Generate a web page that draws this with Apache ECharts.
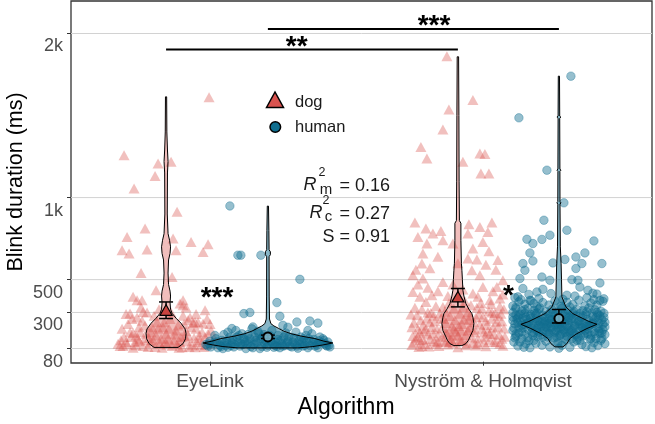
<!DOCTYPE html>
<html><head><meta charset="utf-8">
<script src="https://cdn.jsdelivr.net/npm/echarts@6/dist/echarts.min.js"></script>
<style>html,body{margin:0;padding:0;background:#fff}#c{width:655px;height:424px}</style>
</head><body><div id="c"></div>
<script>
// ---------------- data ----------------
const CATEGORIES = ['EyeLink', 'Nyström & Holmqvist'];
const Y_TICKS = [80, 300, 500, 1000, 2000];
const Y_TICK_LABELS = ['80', '300', '500', '1k', '2k'];
const GRID_LINES = [80, 300, 500, 1000, 2000];
const GROUPS = ['dog', 'human', 'dog', 'human'];          // EyeLink dog, EyeLink human, N&H dog, N&H human
const GROUP_X = [0.839, 1.212, 1.908, 2.278];              // dodged positions on the category scale
const JIT = 1 / 273;                                        // jitter unit (fraction of category spacing)

// points: [jitter, blink duration ms]
const DOG_EL = [[-42,1258],[-8,1208],[5,1218],[-11,1132],[-32,1055],[43,1612],[11,913],[-21,811],[-39,760],[7,750],[25,730],[42,716],[-44,679],[-37,659],[-19,683],[10,679],[37,669],[-25,541],[6,516],[-10,435],[-29,374],[14,354],[39,313],[-33,395],[-24,374],[17,374],[17,344],[-36,293],[-23,303],[22,252],[29,242],[37,232],
[-46,95],[-40,120],[-35,150],[-30,100],[-26,180],[-22,130],[-18,90],[-14,210],[-10,160],[-6,110],[-2,240],[2,140],[6,95],[10,190],[14,120],[18,230],[22,160],[26,100],[30,200],[34,130],[38,90],[42,170],[46,110],[-44,200],[-38,230],[-33,85],[-28,140],[-24,250],[-20,170],[-16,115],[-12,280],[-8,200],[-4,85],[0,170],[4,260],[8,130],[12,220],[16,88],[20,185],[24,270],[28,145],[32,240],[36,180],[40,105],[44,230],[-42,150],[-36,180],[-31,120],[-27,210],[-23,95],[-19,300],[-15,180],[-11,90],[-7,320],[-3,210],[1,105],[5,300],[9,165],[13,85],[17,280],[21,125],[25,210],[29,88],[33,160],[-48,110],[48,140],[-34,260],[-25,330],[20,330],[-40,290],[30,290],[-5,140],[15,150],[-30,160],[35,100],
[-45,130],[-39,105],[-33,175],[-27,125],[-21,220],[-17,145],[-9,240],[-1,120],[3,200],[11,105],[19,155],[27,235],[31,120],[39,150],[45,190],[-29,270],[-13,130],[23,90],[41,260],[-43,95]];
const HUM_EL = [[-38,949],[-30,649],[-27,649],[-7,649],[32,502],[9,360],[12,277],[-24,293],[-18,300],[42,248],[29,242],[15,222],[-36,202],[-15,212],[50,235],
[-60,95],[-55,110],[-50,85],[-46,130],[-42,100],[-38,150],[-34,90],[-30,120],[-26,170],[-22,80],[-18,140],[-14,105],[-10,185],[-6,92],[-2,125],[2,160],[6,88],[10,135],[14,110],[18,175],[22,95],[26,145],[30,82],[34,120],[38,160],[42,98],[46,135],[50,85],[54,115],[58,100],[62,90],[-58,125],[-52,140],[-48,100],[-44,165],[-40,88],[-36,115],[-32,190],[-28,95],[-24,140],[-20,110],[-16,200],[-12,130],[-8,80],[-4,165],[0,100],[4,190],[8,118],[12,85],[16,150],[20,125],[24,90],[28,180],[32,105],[36,140],[40,85],[44,170],[48,110],[52,150],[56,130],[-62,105],[-45,80],[-35,135],[-25,105],[-15,85],[-5,150],[5,110],[15,95],[25,120],[35,95],[45,120],[55,140],[-20,165],[20,210],[-40,180],[40,190],[60,120],[-53,160],[0,140],[10,160],
[-57,90],[-51,120],[-47,92],[-41,125],[-37,98],[-31,150],[-27,110],[-21,128],[-17,92],[-11,115],[-7,138],[-1,88],[3,125],[7,100],[13,130],[17,98],[21,150],[27,108],[31,128],[37,100],[41,140],[47,95],[51,128],[57,110],[61,100],[-59,110],[-43,115],[-33,105],[-23,118],[-13,150],[-3,110],[9,92],[19,115],[29,95],[39,120],[49,100],[59,95],[-29,160],[33,150],[-9,170]];
const DOG_NH = [[-11,1862],[15,1594],[-9,1537],[-15,1415],[-37,1309],[-31,1238],[5,1218],[22,1269],[27,1265],[23,1147],[31,1147],
[-43,848],[-32,812],[-40,760],[-25,781],[-17,797],[-15,740],[-31,720],[11,838],[22,821],[34,848],[10,781],[30,791],[25,730],[31,673],[-36,598],[10,629],[19,623],[14,557],[22,527],[-45,527],[-35,507],[-15,486],[45,496],[39,455],[25,455],[-45,425],[-26,405],[15,415],[32,374],[42,385],
[-40,470],[-30,450],[-20,430],[-5,470],[5,440],[35,430],[-38,395],[-10,400],[20,395],[45,410],[-42,560],[-28,570],[0,600],[28,590],[38,560],[-20,640],[40,620],[-35,660],[15,690],[-5,720],
[-46,102],[-42,143],[-38,176],[-35,221],[-31,263],[-27,297],[-22,338],[-19,96],[-14,128],[-11,171],[-6,214],[-3,253],[2,292],[5,331],[9,113],[14,148],[17,194],[22,226],[25,272],[31,308],[33,352],[38,118],[41,163],[46,203],[-44,238],[-41,283],[-36,318],[-32,364],[-29,92],[-24,124],[-20,158],[-16,205],[-12,236],[-8,278],[-4,323],[0,88],[4,127],[8,162],[12,208],[16,241],[21,288],[24,322],[28,94],[32,133],[36,168],[40,213],[44,247],[-47,287],[-43,328],[-39,89],[-35,134],[-30,166],[-26,212],[-23,246],[-18,293],[-15,334],[-10,104],[-7,137],[-2,183],[1,218],[6,258],[10,302],[13,344],[18,98],[20,141],[26,178],[29,224],[34,262],[37,297],[42,337],[45,97],[-45,157],[-37,252],[-28,138],[-21,197],[-13,304],[-5,112],[3,188],[11,254],[19,328],[27,152],[35,207],[43,292],[-40,198],[-33,108],[-25,173],[-17,264],[-9,356],[7,368],[23,358],[39,243],[47,152],[-12,120],[15,115],[-34,185],[30,185],
[-44,115],[-40,150],[-36,95],[-32,200],[-28,240],[-24,280],[-20,120],[-16,150],[-12,180],[-8,120],[-4,200],[0,160],[4,230],[8,100],[12,280],[16,180],[20,110],[24,200],[28,250],[32,170],[36,120],[40,280],[44,140],[46,320],[-46,210],[-38,130],[-30,300],[-22,110],[-14,260],[-6,160],[2,130],[10,190],[18,270],[26,120],[34,300],[42,110]];
const HUM_NH = [[12,1740],[-40,1486],[-12,1167],[5,968],[-15,862],[8,801],[-9,771],[-32,746],[-26,720],[-17,745],[35,736],[-29,663],[-26,614],[-36,598],[26,663],[17,638],[23,598],[-6,602],[6,623],[43,598],[17,568],[-34,557],[-39,507],[-17,516],[-9,496],[13,500],[19,496],[41,480],[-36,446],[29,435],[-22,425],[-16,441],[-41,395],[8,405],[21,455],[34,417],[41,374],[-29,374],
[-44,390],[-30,410],[-20,385],[-8,415],[4,380],[16,400],[28,390],[38,412],[45,383],[-38,378],
[-46,340],[-40,365],[-34,350],[-28,372],[-22,335],[-16,360],[-10,345],[-4,370],[2,338],[8,362],[14,348],[20,375],[26,340],[32,358],[38,345],[44,368],[-43,332],[-25,355],[11,333],[35,378],
[-46,300],[-43,322],[-40,285],[-37,310],[-34,295],[-31,325],[-28,288],[-25,312],[-22,298],[-19,328],[-16,283],[-13,306],[-10,292],[-7,318],[-4,286],[-1,302],[3,325],[6,290],[9,314],[12,282],[15,305],[18,320],[21,293],[24,310],[27,286],[30,327],[33,298],[36,316],[39,288],[42,308],[45,295],
[-46,250],[-44,230],[-41,268],[-38,242],[-35,226],[-32,258],[-29,275],[-26,236],[-23,262],[-20,224],[-17,248],[-14,272],[-11,232],[-8,256],[-5,240],[-2,266],[1,228],[4,252],[7,274],[10,238],[13,262],[16,226],[19,246],[22,270],[25,234],[28,258],[31,222],[34,244],[37,268],[40,232],[43,256],[46,240],[-30,240],[0,245],[30,250],
[-46,190],[-43,170],[-40,208],[-37,182],[-34,165],[-31,198],[-28,215],[-25,176],[-22,202],[-19,162],[-16,188],[-13,212],[-10,172],[-7,196],[-4,180],[-1,206],[2,168],[5,192],[8,214],[11,178],[14,200],[17,164],[20,186],[23,210],[26,174],[29,198],[32,162],[35,184],[38,208],[41,172],[44,196],[46,165],[-20,180],[10,185],[40,185],
[-45,120],[-41,95],[-37,140],[-33,110],[-29,85],[-25,130],[-21,150],[-17,100],[-13,125],[-9,90],[-5,145],[-1,115],[3,100],[7,135],[11,88],[15,120],[19,150],[23,105],[27,92],[31,138],[35,115],[39,98],[43,142],[46,110],[-43,155],[-35,88],[-23,112],[0,82],[21,130],[33,85],
[-44,145],[-40,175],[-36,205],[-32,235],[-28,265],[-24,295],[-20,320],[-16,150],[-12,180],[-8,210],[-4,225],[0,270],[4,300],[8,155],[12,190],[16,218],[20,248],[24,280],[28,305],[32,140],[36,172],[40,202],[44,228],[-42,260],[-38,290],[-34,318],[-30,128],[-26,160],[-22,190],[-18,215],[-14,245],[-10,262],[-6,296],[-2,150],[2,200],[6,232],[10,268],[14,295],[18,130],[22,158],[26,192],[30,220],[34,276],[38,300],[42,130],[46,212],[-45,205],[-41,236],[-37,222],[-33,272],[-27,205],[-21,248],[-15,230],[-9,235],[-3,190],[3,215],[9,250],[15,170],[21,230],[27,215],[33,230],[39,255],[45,270],[-43,285],[-39,120],[-31,145],[-23,285],[-11,150],[-7,258],[1,160],[13,140],[25,160],[37,140],[43,175],[-36,265],[-19,242],[-1,230],[17,280],[29,170],[41,280],[-46,272],[-12,205],[6,178],[24,205],[-27,180],[35,235]];

// violin outlines: [blink duration ms, half width in jitter units]
const VIOLIN_DOG_EL = [[87,12],[110,17],[140,19.5],[173,20],[200,19],[234,15],[265,10],[295,6],[320,4.5],[360,4],[400,4.5],[430,4],[470,2.5],[540,2],[620,2.5],[660,4],[700,4.5],[740,3.5],[780,2],[900,1.2],[1150,1.4],[1220,2],[1290,1.4],[1400,0.8],[1614,0.6]];
const VIOLIN_HUM_EL = [[84,30],[92,45],[102,55],[114,65],[125,56],[141,47],[155,34],[171,23],[186,16],[202,11],[218,6],[232,3],[260,1.6],[400,1.3],[640,1.2],[652,2.5],[670,2.5],[682,1.2],[800,1],[948,0.6]];
const VIOLIN_DOG_NH = [[98,4],[110,8],[130,10.5],[151,12],[190,15],[232,16],[270,15],[293,14],[320,11],[354,8],[400,6],[435,5],[500,4.5],[557,4],[600,3.5],[740,3],[844,3],[860,1.5],[1100,1.2],[1500,1],[1858,0.7]];
const VIOLIN_HUM_NH = [[90,4],[110,8],[141,11],[171,18],[202,28],[228,38],[245,30],[263,24],[293,14],[334,7],[395,3],[500,2.6],[600,2.2],[700,1.4],[960,1.1],[968,2],[976,1.1],[1160,1],[1167,2],[1174,1],[1483,0.8],[1490,2],[1497,0.8],[1740,0.6]];
const VIOLINS = [VIOLIN_DOG_EL, VIOLIN_HUM_EL, VIOLIN_DOG_NH, VIOLIN_HUM_NH];

const MEANS = [313, 151, 395, 263];
const CI_LO = [263, 141, 334, 236];
const CI_HI = [364, 162, 446, 318];

// significance brackets between algorithms
const SIG_TEXT = ['**', '***'];
const SIG_FROM = [0, 1];
const SIG_TO = [2, 3];
const SIG_LEVEL = [1903, 2027];
const SIG_TEXT_X = [1.3176, 1.8205];
const SIG_TEXT_Y = [1954, 2082];
// significance within algorithm (dog vs human)
const WITHIN_TEXT = ['***', '*'];
const WITHIN_Y = [423, 435];

const R2_M = '0.16', R2_C = '0.27', S_VAL = '0.91';

// ---------------- chart ----------------
const X_MIN = 0.4908, X_MAX = 2.619, Y_MIN = -8, Y_MAX = 2198;
const DOG_COLOR = '#d9534f', HUM_COLOR = '#0f6e8f';
const FONT = '"Liberation Sans", Arial, sans-serif';

function pts(list, gi) { return list.map(([dx, v]) => [GROUP_X[gi] + dx * JIT, v]); }

const chart = echarts.init(document.getElementById('c'));
chart.setOption({
  animation: false,
  grid: { left: 71, right: 3, top: 1, bottom: 61, show: true, borderColor: '#333', borderWidth: 1.3, outerBoundsMode: 'none', containLabel: false },
  xAxis: {
    type: 'value', min: X_MIN, max: X_MAX,
    name: 'Algorithm', nameLocation: 'middle', nameGap: 33,
    nameTextStyle: { fontSize: 23, color: '#000', fontFamily: FONT, padding: [0, 31, 0, 0] },
    axisLine: { show: false }, splitLine: { show: false },
    axisTick: { show: true, customValues: [1, 2], length: 4, lineStyle: { color: '#333' } },
    axisLabel: { customValues: [1, 2], formatter: v => CATEGORIES[Math.round(v) - 1] || '', fontSize: 19, color: '#4d4d4d', fontFamily: FONT, margin: 9 }
  },
  yAxis: {
    type: 'value', min: Y_MIN, max: Y_MAX,
    axisLine: { show: false }, splitLine: { show: false },
    axisTick: { show: true, customValues: Y_TICKS, length: 4, lineStyle: { color: '#333' } },
    axisLabel: { customValues: Y_TICKS, formatter: v => Y_TICK_LABELS[Y_TICKS.indexOf(v)] || '', fontSize: 18, lineHeight: 18, color: '#4d4d4d', fontFamily: FONT, margin: 8, verticalAlign: 'top', padding: [4, 0, 0, 0] }
  },
  series: [
    { type: 'custom', name: 'gridlines', z: 1, silent: true,
      data: GRID_LINES.map(v => [X_MIN, v]),
      renderItem(params, api) {
        const cs = params.coordSys; const y = api.coord([X_MIN, api.value(1)])[1];
        return { type: 'line', shape: { x1: cs.x, y1: y, x2: cs.x + cs.width, y2: y }, style: { stroke: '#d2d2d2', lineWidth: 1 } };
      } },
    { type: 'scatter', name: 'dog', z: 2, silent: true, symbol: 'triangle', symbolSize: [11, 10],
      data: pts(DOG_EL, 0).concat(pts(DOG_NH, 2)),
      itemStyle: { color: DOG_COLOR, opacity: 0.37 } },
    { type: 'scatter', name: 'human', z: 3, silent: true, symbol: 'circle', symbolSize: 8.5,
      data: pts(HUM_EL, 1).concat(pts(HUM_NH, 3)),
      itemStyle: { color: HUM_COLOR, opacity: 0.44, borderColor: HUM_COLOR, borderWidth: 0.8 } },
    { type: 'custom', name: 'violins', z: 4, silent: true,
      data: VIOLINS.map((p, i) => [GROUP_X[i], i]),
      renderItem(params, api) {
        const i = params.dataIndex; const prof = VIOLINS[i]; const cx = GROUP_X[i];
        const right = prof.map(([v, hw]) => api.coord([cx + hw * JIT, v]));
        const left = prof.slice().reverse().map(([v, hw]) => api.coord([cx - hw * JIT, v]));
        const fill = GROUPS[i] === 'dog' ? 'rgba(217,83,79,0.38)' : 'rgba(15,110,143,0.5)';
        return { type: 'polygon', shape: { points: right.concat(left) }, style: { fill, stroke: '#000', lineWidth: 1 } };
      } },
    { type: 'custom', name: 'means', z: 5, silent: true,
      data: MEANS.map((m, i) => [GROUP_X[i], m, CI_LO[i], CI_HI[i], i]),
      renderItem(params, api) {
        const x = api.value(0), i = api.value(4);
        const pc = api.coord([x, api.value(1)]), plo = api.coord([x, api.value(2)]), phi = api.coord([x, api.value(3)]);
        const l = api.coord([x - 7 * JIT, 0])[0], r = api.coord([x + 7 * JIT, 0])[0];
        const st = { stroke: '#000', lineWidth: 1.5 };
        const ch = [
          { type: 'line', shape: { x1: pc[0], y1: plo[1], x2: pc[0], y2: phi[1] }, style: st },
          { type: 'line', shape: { x1: l, y1: plo[1], x2: r, y2: plo[1] }, style: st },
          { type: 'line', shape: { x1: l, y1: phi[1], x2: r, y2: phi[1] }, style: st }
        ];
        if (GROUPS[i] === 'dog') {
          ch.push({ type: 'polygon', shape: { points: [[pc[0] - 6, pc[1] + 5], [pc[0], pc[1] - 5.5], [pc[0] + 6, pc[1] + 5]] }, style: { fill: '#c9433f', stroke: '#000', lineWidth: 1.2 } });
        } else {
          ch.push({ type: 'circle', shape: { cx: pc[0], cy: pc[1], r: 4.5 }, style: { fill: 'rgba(120,180,200,0.9)', stroke: '#000', lineWidth: 2 } });
        }
        return { type: 'group', children: ch };
      } },
    { type: 'custom', name: 'significance', z: 6, silent: true,
      data: SIG_TEXT.map((t, k) => [GROUP_X[SIG_FROM[k]], SIG_LEVEL[k], k]),
      renderItem(params, api) {
        const k = params.dataIndex;
        const a = api.coord([GROUP_X[SIG_FROM[k]], SIG_LEVEL[k]]), b = api.coord([GROUP_X[SIG_TO[k]], SIG_LEVEL[k]]);
        const t = api.coord([SIG_TEXT_X[k], SIG_TEXT_Y[k]]);
        return { type: 'group', children: [
          { type: 'line', shape: { x1: a[0], y1: a[1], x2: b[0], y2: b[1] }, style: { stroke: '#000', lineWidth: 2 } },
          { type: 'text', x: t[0], y: t[1] + 6, style: { text: SIG_TEXT[k], fontSize: 28, fontWeight: 'bold', fontFamily: FONT, fill: '#000', align: 'center', verticalAlign: 'middle' } }
        ] };
      } },
    { type: 'custom', name: 'within', z: 6, silent: true,
      data: WITHIN_TEXT.map((t, k) => [(GROUP_X[2 * k] + GROUP_X[2 * k + 1]) / 2, WITHIN_Y[k]]),
      renderItem(params, api) {
        const p = api.coord([api.value(0), api.value(1)]);
        return { type: 'text', x: p[0], y: p[1] + 6, style: { text: WITHIN_TEXT[params.dataIndex], fontSize: 28, fontWeight: 'bold', fontFamily: FONT, fill: '#000', align: 'center', verticalAlign: 'middle' } };
      } }
  ],
  graphic: [
    // y axis title
    { type: 'text', x: 16, y: 182, rotation: Math.PI / 2, style: { text: 'Blink duration (ms)', fontSize: 21.5, fontFamily: FONT, fill: '#000', align: 'center', verticalAlign: 'middle' }, z: 10 },
    // legend
    { type: 'polygon', shape: { points: [[266.5, 107.5], [275, 92], [283.5, 107.5]] }, style: { fill: '#d9534f', stroke: '#000', lineWidth: 1.5 }, z: 10 },
    { type: 'text', x: 295, y: 102, style: { text: 'dog', fontSize: 16.5, fontFamily: FONT, fill: '#1a1a1a', verticalAlign: 'middle' }, z: 10 },
    { type: 'circle', shape: { cx: 275.3, cy: 127, r: 5.3 }, style: { fill: HUM_COLOR, stroke: '#000', lineWidth: 1.5 }, z: 10 },
    { type: 'text', x: 295, y: 127.5, style: { text: 'human', fontSize: 16.5, fontFamily: FONT, fill: '#1a1a1a', verticalAlign: 'middle' }, z: 10 },
    // model statistics
    { type: 'text', x: 310, y: 185, style: { text: 'R', fontSize: 18, fontStyle: 'italic', fontFamily: FONT, fill: '#1a1a1a', align: 'center', verticalAlign: 'middle' }, z: 10 },
    { type: 'text', x: 322, y: 172.5, style: { text: '2', fontSize: 12.5, fontFamily: FONT, fill: '#1a1a1a', align: 'center', verticalAlign: 'middle' }, z: 10 },
    { type: 'text', x: 326, y: 190, style: { text: 'm', fontSize: 15, fontFamily: FONT, fill: '#1a1a1a', align: 'center', verticalAlign: 'middle' }, z: 10 },
    { type: 'text', x: 390, y: 186, style: { text: '= ' + R2_M, fontSize: 18, fontFamily: FONT, fill: '#1a1a1a', align: 'right', verticalAlign: 'middle' }, z: 10 },
    { type: 'text', x: 316, y: 213, style: { text: 'R', fontSize: 18, fontStyle: 'italic', fontFamily: FONT, fill: '#1a1a1a', align: 'center', verticalAlign: 'middle' }, z: 10 },
    { type: 'text', x: 326, y: 201, style: { text: '2', fontSize: 12.5, fontFamily: FONT, fill: '#1a1a1a', align: 'center', verticalAlign: 'middle' }, z: 10 },
    { type: 'text', x: 328.5, y: 217, style: { text: 'c', fontSize: 15, fontFamily: FONT, fill: '#1a1a1a', align: 'center', verticalAlign: 'middle' }, z: 10 },
    { type: 'text', x: 390, y: 214, style: { text: '= ' + R2_C, fontSize: 18, fontFamily: FONT, fill: '#1a1a1a', align: 'right', verticalAlign: 'middle' }, z: 10 },
    { type: 'text', x: 390, y: 237.5, style: { text: 'S = ' + S_VAL, fontSize: 18, fontFamily: FONT, fill: '#1a1a1a', align: 'right', verticalAlign: 'middle' }, z: 10 }
  ]
});
</script>
</body></html>
